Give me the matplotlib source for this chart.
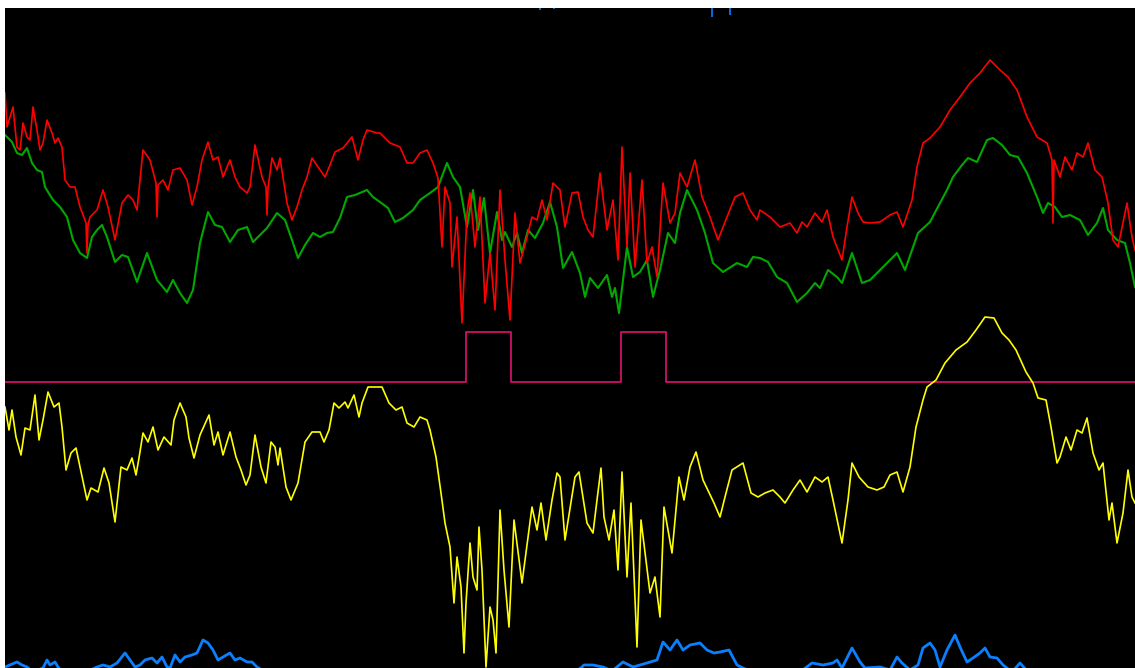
import matplotlib
matplotlib.use("Agg")
import matplotlib.pyplot as plt

# values (x = sample position, y = level on an inverted scale)
red_x = [5, 7, 13, 17, 20, 23, 27, 30, 33, 37, 40, 43, 47, 52, 55, 58, 62, 65, 70, 75, 80, 86, 87, 88, 90, 97,
         103, 108, 115, 122, 128, 133, 137, 143, 150, 156, 157, 158, 163, 168, 173, 180, 187, 192, 197, 202, 208,
         213, 218, 223, 230, 235, 240, 247, 250, 255, 262, 266, 267, 268, 272, 277, 280, 287, 292, 297, 302, 307,
         312, 318, 325, 330, 335, 343, 352, 358, 363, 367, 377, 380, 390, 400, 407, 413, 420, 427, 433, 438, 442,
         445, 450, 452, 457, 462, 467, 470, 475, 480, 485, 490, 495, 500, 505, 510, 515, 520, 527, 532, 537, 542,
         547, 553, 560, 565, 572, 578, 583, 588, 593, 600, 607, 613, 618, 622, 627, 630, 635, 642, 647, 652, 657,
         663, 670, 675, 680, 687, 695, 702, 710, 718, 727, 735, 743, 750, 757, 760, 770, 780, 790, 797, 802, 807,
         815, 822, 827, 833, 842, 847, 852, 858, 863, 870, 880, 890, 897, 903, 912, 917, 923, 930, 940, 950, 960,
         970, 980, 990, 1000, 1008, 1017, 1027, 1037, 1047, 1052, 1053, 1054, 1060, 1065, 1072, 1077, 1083, 1088,
         1095, 1102, 1108, 1113, 1118, 1127, 1132, 1135]
red_y = [93, 127, 107, 147, 150, 123, 137, 140, 107, 130, 150, 143, 120, 133, 143, 138, 147, 180, 187, 187, 207,
         223, 253, 225, 217, 210, 190, 207, 240, 203, 195, 200, 210, 150, 160, 183, 217, 185, 180, 190, 170, 168,
         180, 205, 187, 160, 142, 160, 157, 177, 160, 177, 187, 193, 187, 145, 177, 187, 215, 188, 158, 170, 158,
         203, 220, 207, 190, 177, 158, 167, 177, 165, 152, 148, 137, 160, 140, 130, 133, 133, 143, 147, 163, 163,
         153, 150, 163, 178, 247, 187, 203, 267, 217, 323, 213, 193, 247, 197, 303, 253, 310, 190, 260, 320, 213,
         263, 237, 217, 220, 200, 220, 183, 190, 227, 193, 192, 217, 230, 237, 173, 230, 200, 260, 147, 247, 173,
         267, 180, 263, 247, 277, 183, 223, 213, 173, 187, 160, 197, 217, 240, 217, 197, 193, 210, 220, 210, 217,
         227, 223, 233, 222, 227, 213, 222, 210, 237, 260, 227, 197, 213, 222, 223, 222, 215, 212, 227, 200, 167,
         143, 138, 127, 110, 97, 83, 73, 60, 70, 77, 90, 117, 137, 143, 160, 223, 160, 177, 157, 170, 153, 157,
         143, 170, 177, 203, 240, 247, 203, 237, 250]

green_x = [5, 12, 17, 22, 27, 32, 37, 42, 45, 53, 60, 67, 73, 80, 87, 92, 97, 102, 107, 115, 122, 128, 137, 147,
           157, 167, 173, 180, 187, 193, 200, 208, 215, 222, 230, 238, 247, 253, 260, 267, 277, 285, 292, 298, 305,
           313, 320, 327, 333, 340, 347, 355, 367, 373, 380, 388, 395, 403, 413, 420, 430, 438, 447, 453, 460, 467,
           473, 478, 484, 490, 497, 502, 505, 512, 517, 522, 528, 535, 543, 550, 557, 563, 572, 580, 585, 590, 598,
           607, 612, 615, 619, 627, 633, 640, 647, 653, 660, 668, 675, 680, 687, 697, 705, 713, 723, 737, 747, 753,
           760, 768, 777, 787, 797, 807, 815, 820, 828, 837, 842, 852, 862, 870, 880, 890, 897, 905, 918, 930, 940,
           947, 953, 962, 968, 977, 987, 993, 1002, 1010, 1018, 1027, 1037, 1043, 1048, 1055, 1062, 1070, 1080,
           1088, 1097, 1103, 1108, 1117, 1125, 1130, 1135]
green_y = [135, 142, 153, 155, 148, 163, 170, 172, 187, 200, 207, 217, 240, 253, 258, 237, 230, 225, 237, 262,
           255, 257, 282, 253, 280, 292, 280, 293, 303, 290, 243, 212, 225, 227, 242, 230, 227, 242, 235, 228, 213,
           220, 240, 258, 245, 233, 237, 233, 232, 218, 197, 195, 190, 197, 202, 208, 222, 218, 210, 200, 193, 187,
           163, 177, 187, 227, 190, 230, 198, 253, 212, 240, 232, 247, 233, 253, 230, 238, 223, 202, 227, 268, 252,
           273, 297, 278, 288, 275, 297, 288, 313, 247, 277, 272, 260, 297, 270, 233, 243, 213, 190, 210, 233, 263,
           272, 263, 267, 257, 258, 262, 277, 283, 302, 293, 283, 288, 270, 277, 283, 253, 283, 280, 270, 260, 253,
           270, 233, 222, 203, 190, 177, 165, 158, 162, 140, 138, 145, 155, 157, 173, 197, 213, 203, 207, 217, 215,
           220, 235, 223, 208, 230, 240, 243, 263, 287]

yellow_x = [5, 9, 12, 16, 21, 25, 30, 35, 39, 43, 48, 54, 59, 62, 66, 71, 76, 80, 87, 91, 98, 104, 109, 115, 121,
            127, 132, 136, 139, 143, 148, 153, 158, 164, 171, 174, 180, 186, 189, 194, 200, 209, 214, 218, 223, 230,
            236, 241, 246, 250, 255, 261, 266, 271, 275, 278, 280, 286, 291, 298, 305, 312, 320, 324, 329, 334, 339,
            345, 348, 354, 359, 362, 368, 375, 382, 389, 396, 402, 407, 414, 420, 427, 430, 436, 441, 445, 450, 454,
            457, 461, 464, 466, 470, 473, 477, 479, 482, 486, 490, 493, 496, 500, 504, 509, 514, 522, 532, 537, 541,
            546, 552, 557, 560, 565, 575, 579, 587, 593, 597, 601, 604, 609, 614, 618, 622, 627, 631, 637, 641, 650,
            655, 660, 664, 672, 679, 684, 690, 696, 703, 714, 720, 725, 732, 743, 751, 758, 765, 773, 780, 785, 793,
            800, 807, 815, 822, 828, 833, 842, 848, 852, 859, 868, 877, 884, 890, 897, 903, 910, 916, 923, 927, 936,
            945, 956, 967, 976, 985, 994, 1002, 1009, 1016, 1026, 1033, 1038, 1046, 1051, 1057, 1060, 1066, 1071,
            1077, 1082, 1087, 1093, 1099, 1103, 1109, 1112, 1117, 1123, 1128, 1132, 1135]
yellow_y = [407, 430, 410, 437, 455, 428, 430, 395, 440, 420, 392, 407, 403, 427, 470, 453, 448, 467, 500, 488,
            492, 468, 483, 522, 467, 470, 458, 475, 458, 433, 442, 427, 450, 437, 445, 420, 403, 417, 438, 458, 435,
            415, 445, 432, 455, 432, 457, 470, 485, 475, 435, 467, 483, 442, 447, 465, 448, 487, 500, 483, 442, 432,
            432, 442, 430, 403, 408, 402, 408, 395, 417, 403, 387, 387, 387, 403, 410, 407, 423, 427, 417, 420, 430,
            457, 493, 523, 547, 603, 557, 587, 653, 603, 543, 577, 590, 527, 570, 667, 607, 620, 653, 510, 570, 627,
            520, 583, 507, 530, 503, 540, 500, 473, 477, 540, 477, 472, 523, 533, 500, 468, 517, 540, 510, 570, 472,
            577, 503, 647, 520, 593, 577, 617, 507, 553, 477, 500, 467, 452, 480, 503, 517, 497, 470, 463, 493, 497,
            493, 490, 497, 503, 490, 480, 492, 477, 482, 477, 500, 543, 500, 463, 477, 487, 490, 487, 475, 472, 492,
            467, 427, 400, 387, 380, 363, 350, 342, 330, 317, 318, 333, 340, 350, 372, 383, 398, 400, 427, 463, 457,
            437, 450, 430, 433, 418, 453, 470, 463, 520, 503, 543, 513, 470, 497, 503]

blue_x = [5, 17, 22, 27, 33, 43, 47, 50, 55, 58, 62, 80, 97, 103, 110, 117, 125, 130, 135, 140, 145, 152, 157,
          162, 167, 170, 175, 180, 185, 192, 197, 203, 208, 213, 218, 223, 230, 235, 240, 247, 252, 257, 262, 300,
          400, 500, 575, 582, 584, 593, 603, 612, 623, 633, 647, 657, 663, 670, 677, 683, 690, 700, 707, 714, 720,
          729, 737, 743, 760, 800, 812, 823, 833, 837, 842, 852, 860, 865, 880, 890, 897, 902, 910, 918, 923, 930,
          935, 940, 947, 955, 960, 967, 973, 980, 985, 990, 997, 1003, 1012, 1020, 1028, 1060, 1135]
blue_y = [667, 662, 665, 667, 672, 668, 660, 665, 662, 667, 672, 675, 667, 665, 667, 663, 653, 660, 667, 665, 660,
          658, 663, 657, 667, 668, 655, 662, 657, 655, 653, 640, 643, 650, 660, 657, 653, 660, 658, 662, 662, 667,
          670, 680, 680, 680, 672, 667, 665, 665, 667, 671, 662, 667, 663, 660, 642, 650, 640, 650, 645, 643, 650,
          653, 652, 650, 665, 668, 675, 672, 663, 665, 663, 660, 668, 648, 662, 668, 667, 670, 657, 663, 670, 665,
          648, 643, 650, 667, 650, 635, 647, 662, 658, 653, 648, 657, 658, 665, 672, 663, 672, 680, 680]

# short blue marks hanging from the top edge
blue_top_x = [540, 554, 712, 730]
blue_top_y = [10, 9, 17, 15]

# on/off state, changes at these positions
state_x = [5, 466, 511, 621, 666, 1135]
state_y = [382, 332, 382, 332, 382, 382]

fig = plt.figure(figsize=(11.35, 6.68), dpi=100, facecolor="white")
ax = fig.add_axes([5 / 1135, 0, 1130 / 1135, 660 / 668])
ax.set_facecolor("black")

ax.plot(green_x, green_y, color="#00a800", lw=1.5)
ax.plot(red_x, red_y, color="#ff0000", lw=1.2)
ax.step(state_x, state_y, where="post", color="#d0106a", lw=1.3)
ax.plot(yellow_x, yellow_y, color="#ffff00", lw=1.2)
ax.plot(blue_x, blue_y, color="#0a80ff", lw=2.0)
ax.vlines(blue_top_x, 8, blue_top_y, color="#0a80ff", lw=1.2)

ax.set_xlim(5, 1135)
ax.set_ylim(668, 8)
ax.set_xticks([])
ax.set_yticks([])
for s in ax.spines.values():
    s.set_visible(False)

fig.savefig("out.png", dpi=100, facecolor="white")
